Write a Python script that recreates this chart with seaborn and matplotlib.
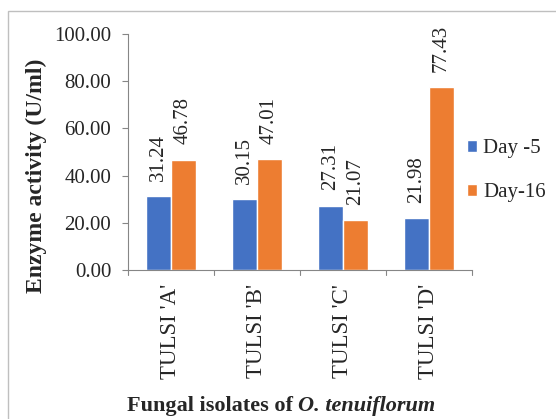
import matplotlib
matplotlib.use("Agg")
import matplotlib.pyplot as plt
import seaborn as sns
import pandas as pd
from matplotlib.patches import Rectangle

categories = ["TULSI 'A'", "TULSI 'B'", "TULSI 'C'", "TULSI 'D'"]
series_names = ["Day -5", "Day-16"]
day5 = [31.24, 30.15, 27.31, 21.98]
day16 = [46.78, 47.01, 21.07, 77.43]
yticks = [0, 20, 40, 60, 80, 100]

df = pd.DataFrame({
    "isolate": categories * 2,
    "series": [series_names[0]] * 4 + [series_names[1]] * 4,
    "value": day5 + day16,
})

sns.set_style("white")
plt.rcParams["font.family"] = ["Liberation Serif", "DejaVu Serif"]

W, H = 556, 419
fig = plt.figure(figsize=(W / 100, H / 100), dpi=100)
ax = fig.add_axes([128 / W, 1 - 270 / H, 344 / W, 236 / H])

colors = ["#4472C4", "#ED7D31"]
sns.barplot(data=df, x="isolate", y="value", hue="series", order=categories,
            hue_order=series_names, palette=colors, width=0.57, ax=ax,
            saturation=1, legend=True, errorbar=None)

for cont in ax.containers:
    ax.bar_label(cont, labels=[f"{v:.2f}" for v in cont.datavalues],
                 rotation=90, padding=11, fontsize=15)

ax.set_ylim(0, 100)
ax.set_xlim(-0.5, 3.5)
ax.set_yticks(yticks)
ax.set_yticklabels([f"{v:.2f}" for v in yticks], fontsize=15)
ax.set_xticks(range(4))
ax.set_xticklabels(categories, rotation=90, fontsize=16.5, va="top")
ax.tick_params(axis="x", length=0, pad=10)
ax.tick_params(axis="y", length=4, color="#868686", left=True, pad=8)
for b in [-0.5, 0.5, 1.5, 2.5, 3.5]:
    ax.plot([b, b], [0, -0.022], transform=ax.get_xaxis_transform(),
            color="#868686", lw=0.8, clip_on=False)

for s in ["top", "right"]:
    ax.spines[s].set_visible(False)
for s in ["left", "bottom"]:
    ax.spines[s].set_color("#868686")
    ax.spines[s].set_linewidth(0.8)

ax.set_ylabel("")
ax.set_xlabel("")
fig.text(36 / W, 1 - 176 / H, "Enzyme activity (U/ml)", rotation=90,
         ha="center", va="center", fontsize=17, fontweight="bold")

# x-axis title in two parts (bold + bold italic)
renderer = fig.canvas.get_renderer()
t1 = fig.text(0, 1 - 406 / H, "Fungal isolates of ", ha="left", va="center",
              fontsize=16, fontweight="bold")
t2 = fig.text(0, 1 - 406 / H, "O. tenuiflorum", ha="left", va="center",
              fontsize=16, fontweight="bold", fontstyle="italic")
w1 = t1.get_window_extent(renderer).width
w2 = t2.get_window_extent(renderer).width
x0 = 281 - (w1 + w2) / 2
t1.set_x(x0 / W)
t2.set_x((x0 + w1) / W)

leg = ax.legend(loc="center left", bbox_to_anchor=(0.93, 0.42), frameon=False,
                fontsize=15, handlelength=0.5, handleheight=0.5,
                handletextpad=0.3, labelspacing=1.2)

fig.patches.append(Rectangle((8 / W, -0.1), 1.2, 1 - 11 / H + 0.1,
                             transform=fig.transFigure, fill=False,
                             edgecolor="#BFBFBF", lw=1.0))

fig.savefig("out.png", dpi=100)
